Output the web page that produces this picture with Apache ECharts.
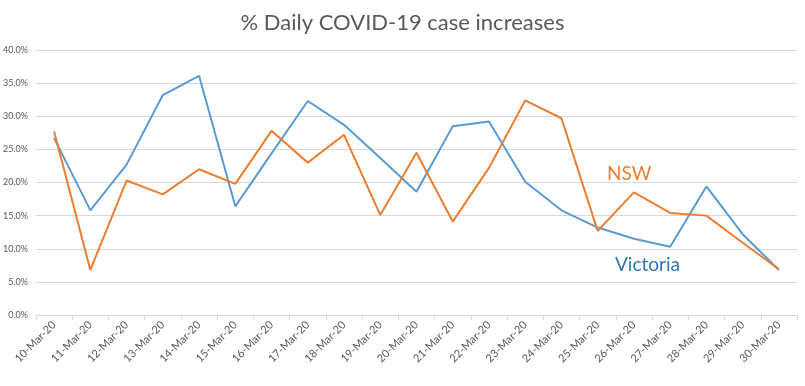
<!DOCTYPE html>
<html><head><meta charset="utf-8">
<script src="https://cdn.jsdelivr.net/npm/echarts@6/dist/echarts.min.js"></script>
<style>html,body{margin:0;padding:0;background:#fff}#c{width:805px;height:386px}</style>
</head><body><div id="c"></div>
<script>
const categories = ["10-Mar-20","11-Mar-20","12-Mar-20","13-Mar-20","14-Mar-20","15-Mar-20","16-Mar-20","17-Mar-20","18-Mar-20","19-Mar-20","20-Mar-20","21-Mar-20","22-Mar-20","23-Mar-20","24-Mar-20","25-Mar-20","26-Mar-20","27-Mar-20","28-Mar-20","29-Mar-20","30-Mar-20"];
const victoria = [26.7,15.8,22.7,33.2,36.1,16.4,24.4,32.3,28.7,23.7,18.6,28.5,29.2,20.1,15.8,13.2,11.5,10.3,19.4,12.2,6.8];
const nsw = [27.7,6.8,20.3,18.2,22.0,19.8,27.8,23.0,27.2,15.1,24.5,14.1,22.2,32.4,29.7,12.7,18.5,15.4,15.0,10.9,6.9];
const font = "Lato, 'Open Sans', sans-serif";
const chart = echarts.init(document.getElementById('c'));
chart.setOption({
  animation: false,
  title: {text: "% Daily COVID-19 case increases", left: 'center', top: 7,
    textStyle: {fontFamily: font, fontSize: 22, fontWeight: 'normal', color: '#595959'}},
  grid: {left: 36, right: 8, top: 50, bottom: 71},
  xAxis: {type: 'category', data: categories, boundaryGap: true,
    axisLine: {lineStyle: {color: '#d9d9d9'}},
    axisTick: {show: true, length: 5, lineStyle: {color: '#d9d9d9'}},
    axisLabel: {rotate: 45, interval: 0, fontFamily: font, fontSize: 11, color: '#595959', margin: 8}},
  yAxis: {type: 'value', min: 0, max: 40, interval: 5,
    axisLine: {show: false}, axisTick: {show: false},
    splitLine: {lineStyle: {color: '#d9d9d9'}},
    axisLabel: {formatter: v => v.toFixed(1) + '%', fontFamily: font, fontSize: 9, color: '#595959', margin: 8}},
  series: [
    {name: 'Victoria', type: 'line', data: victoria, symbol: 'none', lineStyle: {color: '#5B9BD5', width: 2}},
    {name: 'NSW', type: 'line', data: nsw, symbol: 'none', lineStyle: {color: '#ED7D31', width: 2}}
  ],
  graphic: [
    {type: 'text', left: 607, top: 164, style: {text: 'NSW', fontFamily: font, fontSize: 19, fill: '#ED7D31'}},
    {type: 'text', left: 615, top: 255, style: {text: 'Victoria', fontFamily: font, fontSize: 19, fill: '#2E75B6'}}
  ]
});
</script></body></html>
